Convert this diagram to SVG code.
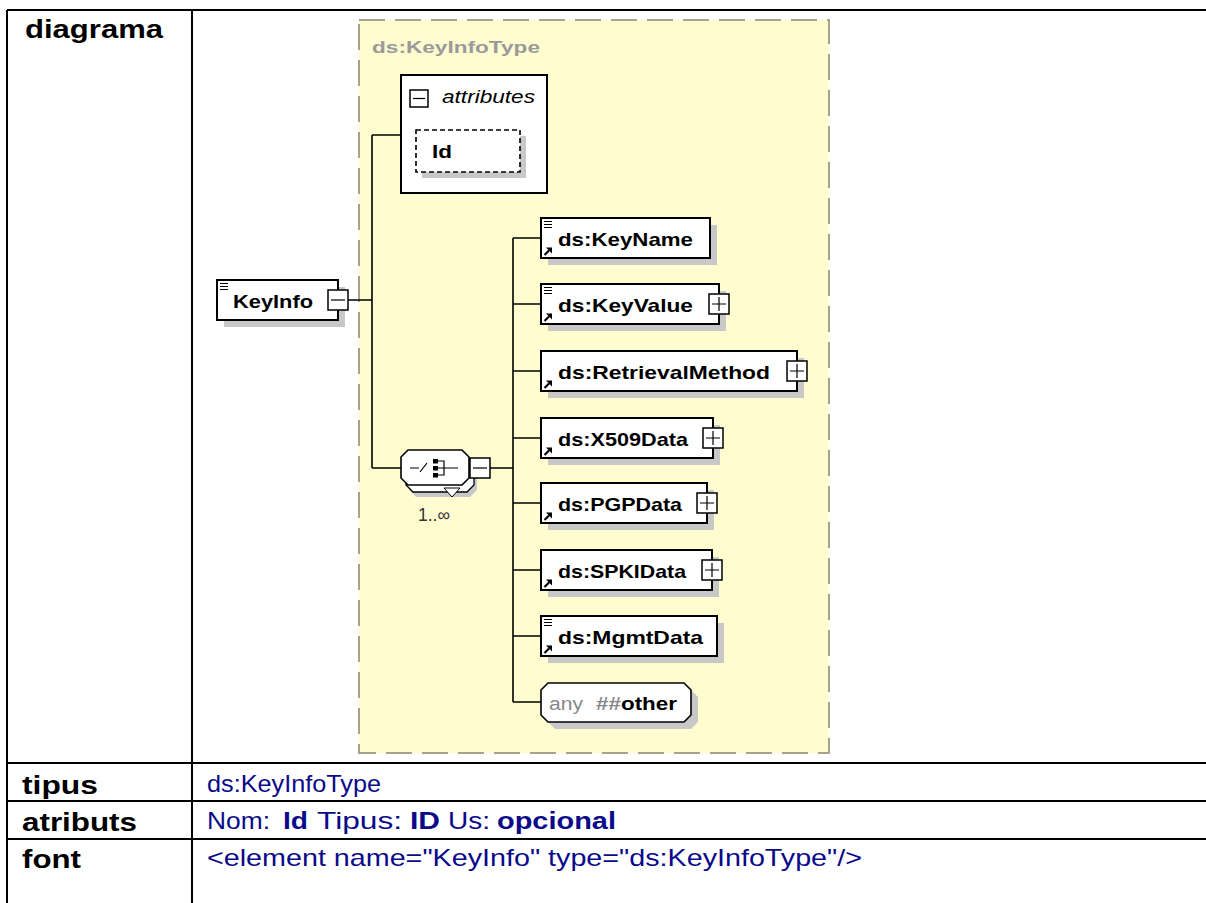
<svg xmlns="http://www.w3.org/2000/svg" width="1206" height="903" viewBox="0 0 1206 903">
<style>
.tbl{stroke:#000;stroke-width:2;fill:none}
.lbl{font-family:"Liberation Sans",Arial,sans-serif;font-weight:bold;font-size:26px;fill:#000}
.val{font-family:"Liberation Sans",Arial,sans-serif;font-size:24px;fill:#0a0a8a}
.b{font-weight:bold}
.box{fill:#fff;stroke:#000;stroke-width:2}
.shd{fill:#c8c8c8}
.et{font-family:"Liberation Sans",Arial,sans-serif;font-weight:bold;font-size:19px;fill:#000}
.conn{stroke:#000;stroke-width:1.6;fill:none}
.pm{fill:#fff;stroke:#000;stroke-width:1.5}
.ic{stroke:#000;stroke-width:1.2;fill:none}
</style>
<defs>
<g id="lines"><path class="ic" d="M0,0.5h8M0,3.5h8M0,6.5h8"/></g>
<g id="arrow"><path d="M0.5,8 L5,3.5" stroke="#000" stroke-width="2.2"/><path d="M2,0.5 H8 V6.5 Z" fill="#000"/></g>
</defs>
<rect width="1206" height="903" fill="#fff"/>
<!-- table -->
<g id="table">
<path class="tbl" d="M7,10 H1206 M7,10 V903 M192,10 V903 M7,763 H1206 M7,801 H1206 M7,839 H1206"/>
<text class="lbl" x="25" y="38" textLength="138" lengthAdjust="spacingAndGlyphs">diagrama</text>
<text class="lbl" x="22" y="794" textLength="76" lengthAdjust="spacingAndGlyphs">tipus</text>
<text class="lbl" x="22" y="831" textLength="115" lengthAdjust="spacingAndGlyphs">atributs</text>
<text class="lbl" x="22" y="868" textLength="59" lengthAdjust="spacingAndGlyphs">font</text>
<text class="val" x="207" y="792" textLength="174" lengthAdjust="spacingAndGlyphs">ds:KeyInfoType</text>
<text class="val" y="829"><tspan x="207" textLength="63" lengthAdjust="spacingAndGlyphs">Nom:</tspan><tspan class="b" x="283" textLength="25" lengthAdjust="spacingAndGlyphs">Id</tspan><tspan x="317" textLength="85" lengthAdjust="spacingAndGlyphs">Tipus:</tspan><tspan class="b" x="410" textLength="30" lengthAdjust="spacingAndGlyphs">ID</tspan><tspan x="448" textLength="42" lengthAdjust="spacingAndGlyphs">Us:</tspan><tspan class="b" x="497" textLength="119" lengthAdjust="spacingAndGlyphs">opcional</tspan></text>
<text class="val" x="207" y="866" textLength="655" lengthAdjust="spacingAndGlyphs">&lt;element name="KeyInfo" type="ds:KeyInfoType"/&gt;</text>
</g>
<!-- complex type container -->
<g id="keyinfotype">
<rect x="359" y="20" width="470" height="733" fill="#fffcd0" stroke="#a6a28c" stroke-width="2" stroke-dasharray="26 10"/>
<text x="372" y="53" font-family="'Liberation Sans',Arial,sans-serif" font-weight="bold" font-size="17" fill="#9a9a9a" textLength="168" lengthAdjust="spacingAndGlyphs">ds:KeyInfoType</text>
</g>
<!-- connectors -->
<g id="connectors">
<path class="conn" d="M348,300 H372 M372,135 V468 M372,135 H401 M372,468 H401 M490,468 H513 M513,238 V702 M513,238 H541 M513,304 H541 M513,371 H541 M513,438 H541 M513,503 H541 M513,570 H541 M513,636 H541 M513,702 H541"/>
</g>
<!-- attributes -->
<g id="attributes">
<rect class="box" x="401" y="75" width="146" height="118"/>
<rect class="pm" x="410" y="90" width="18" height="17"/>
<path class="ic" d="M413,98.5 H425"/>
<text x="442" y="103" font-family="'Liberation Sans',Arial,sans-serif" font-style="italic" font-size="18" fill="#000" textLength="93" lengthAdjust="spacingAndGlyphs">attributes</text>
</g>
<g id="attr-id">
<rect class="shd" x="422" y="136" width="104" height="42"/>
<rect x="416" y="130" width="104" height="42" fill="#fff" stroke="#000" stroke-width="1.6" stroke-dasharray="5 3"/>
<text class="et" x="432" y="158" textLength="20" lengthAdjust="spacingAndGlyphs">Id</text>
</g>
<!-- KeyInfo -->
<g id="keyinfo">
<rect class="shd" x="224" y="287" width="121" height="40"/>
<rect class="box" x="217" y="280" width="121" height="40"/>
<use href="#lines" x="220" y="283"/>
<text class="et" x="233" y="308" textLength="80" lengthAdjust="spacingAndGlyphs">KeyInfo</text>
<rect class="pm" x="328" y="290" width="20" height="20"/>
<path class="ic" d="M331,300 H345"/>
</g>
<!-- sequence -->
<g id="sequence">
<path d="M416,462 h54 l7,7 v21 l-7,7 h-54 l-7,-7 v-21 z" fill="#c8c8c8"/>
<path d="M413,457 h54 l7,7 v21 l-7,7 h-54 l-7,-7 v-21 z" fill="#fff" stroke="#000" stroke-width="1.3"/>
<path d="M408,450 h54 l7,7 v21 l-7,7 h-54 l-7,-7 v-21 z" fill="#fff" stroke="#000" stroke-width="1.6"/>
<path d="M444,488 L460,488 L452,497 Z" fill="#fff" stroke="#000" stroke-width="1"/>
<path class="ic" d="M410,468 H419 M420,472 L427,463" stroke-width="1.6"/>
<rect x="433" y="459" width="5" height="4.5" fill="#000"/>
<rect x="433" y="466" width="5" height="4.5" fill="#000"/>
<rect x="433" y="473" width="5" height="4.5" fill="#000"/>
<path class="ic" d="M438,461 H444 V475 H438 M438,468 H444 M444,468 H458" stroke-width="1.6"/>
<rect class="pm" x="470" y="458" width="20" height="20"/>
<path class="ic" d="M473,468 H487"/>
<text x="418" y="521" font-family="'Liberation Sans',Arial,sans-serif" font-size="18" fill="#333" textLength="32" lengthAdjust="spacingAndGlyphs">1..∞</text>
</g>
<!-- children -->
<g id="keyname">
<rect class="shd" x="548" y="225" width="169" height="40"/>
<rect class="box" x="541" y="218" width="169" height="40"/>
<use href="#lines" x="544" y="221"/><use href="#arrow" x="544" y="247"/>
<text class="et" x="558" y="246" textLength="135" lengthAdjust="spacingAndGlyphs">ds:KeyName</text>
</g>
<g id="keyvalue">
<rect class="shd" x="548" y="291" width="178" height="40"/>
<rect class="box" x="541" y="284" width="178" height="40"/>
<use href="#lines" x="544" y="287"/><use href="#arrow" x="544" y="313"/>
<text class="et" x="558" y="312" textLength="135" lengthAdjust="spacingAndGlyphs">ds:KeyValue</text>
<rect class="pm" x="709" y="294" width="20" height="20"/>
<path class="ic" d="M712,304 H726 M719,297 V311"/>
</g>
<g id="retrievalmethod">
<rect class="shd" x="548" y="358" width="256" height="40"/>
<rect class="box" x="541" y="351" width="256" height="40"/>
<use href="#arrow" x="544" y="380"/>
<text class="et" x="558" y="379" textLength="212" lengthAdjust="spacingAndGlyphs">ds:RetrievalMethod</text>
<rect class="pm" x="787" y="361" width="20" height="20"/>
<path class="ic" d="M790,371 H804 M797,364 V378"/>
</g>
<g id="x509data">
<rect class="shd" x="548" y="425" width="172" height="40"/>
<rect class="box" x="541" y="418" width="172" height="40"/>
<use href="#arrow" x="544" y="447"/>
<text class="et" x="558" y="446" textLength="130" lengthAdjust="spacingAndGlyphs">ds:X509Data</text>
<rect class="pm" x="703" y="428" width="20" height="20"/>
<path class="ic" d="M706,438 H720 M713,431 V445"/>
</g>
<g id="pgpdata">
<rect class="shd" x="548" y="490" width="166" height="40"/>
<rect class="box" x="541" y="483" width="166" height="40"/>
<use href="#arrow" x="544" y="512"/>
<text class="et" x="558" y="511" textLength="124" lengthAdjust="spacingAndGlyphs">ds:PGPData</text>
<rect class="pm" x="697" y="493" width="20" height="20"/>
<path class="ic" d="M700,503 H714 M707,496 V510"/>
</g>
<g id="spkidata">
<rect class="shd" x="548" y="557" width="171" height="40"/>
<rect class="box" x="541" y="550" width="171" height="40"/>
<use href="#arrow" x="544" y="579"/>
<text class="et" x="558" y="578" textLength="128" lengthAdjust="spacingAndGlyphs">ds:SPKIData</text>
<rect class="pm" x="702" y="560" width="20" height="20"/>
<path class="ic" d="M705,570 H719 M712,563 V577"/>
</g>
<g id="mgmtdata">
<rect class="shd" x="548" y="623" width="176" height="40"/>
<rect class="box" x="541" y="616" width="176" height="40"/>
<use href="#lines" x="544" y="619"/><use href="#arrow" x="544" y="645"/>
<text class="et" x="558" y="644" textLength="145" lengthAdjust="spacingAndGlyphs">ds:MgmtData</text>
</g>
<g id="any">
<path d="M555,690 h136 l7,7 v25 l-7,7 h-136 l-7,-7 v-25 z" fill="#c8c8c8"/>
<path d="M548,683 h136 l7,7 v25 l-7,7 h-136 l-7,-7 v-25 z" fill="#fff" stroke="#000" stroke-width="1.6"/>
<text x="549" y="710" font-family="'Liberation Sans',Arial,sans-serif" font-size="18" fill="#888" textLength="34" lengthAdjust="spacingAndGlyphs">any</text>
<text class="et" x="596" y="710" textLength="81" lengthAdjust="spacingAndGlyphs"><tspan fill="#888">##</tspan>other</text>
</g>
</svg>
